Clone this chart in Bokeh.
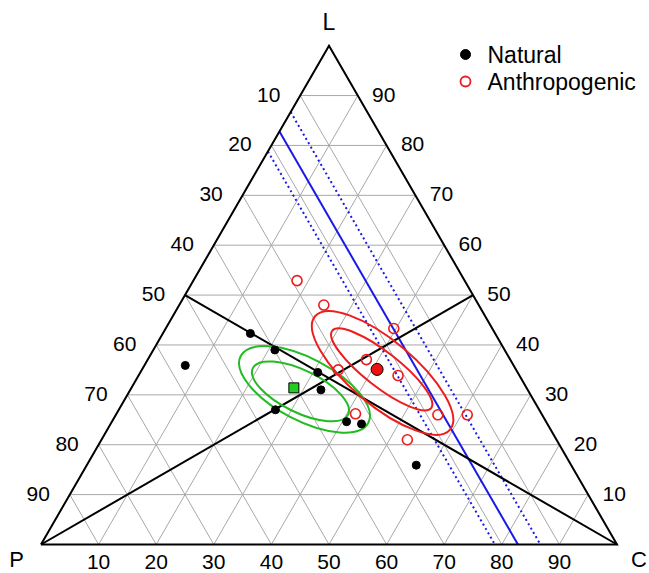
import math
from bokeh.plotting import figure
from bokeh.models import Range1d
from bokeh.core.properties import value
from bokeh.embed import file_html
from bokeh.resources import INLINE

# ---------------- data (ternary percentages: P, C, L) ----------------
natural_P = [42.5, 39.9, 57.0, 34.7, 35.9, 45.8, 34.6, 32.3, 26.9]
natural_C = [15.2, 21.1, 7.1, 30.8, 33.1, 27.2, 40.7, 43.6, 57.2]
natural_L = [42.3, 39.0, 35.9, 34.5, 31.0, 27.0, 24.6, 24.2, 15.9]

anthro_P = [29.1, 26.9, 17.1, 25.0, 30.9, 21.1, 32.3, 18.1, 25.9, 13.0]
anthro_C = [18.0, 25.1, 39.6, 38.0, 34.1, 45.1, 41.5, 55.9, 53.1, 61.0]
anthro_L = [52.9, 48.0, 43.3, 37.1, 35.0, 33.9, 26.2, 26.0, 21.0, 26.0]

natural_mean = [40.4, 28.2, 31.4]   # P, C, L
anthro_mean = [24.1, 40.8, 35.1]    # P, C, L

# confidence ellipses: centre (P, C, L), semi-axes (fraction of side), tilt (deg)
ell_group = ["natural", "natural", "anthro", "anthro"]
ell_P = [38.7, 39.6, 23.5, 23.3]
ell_C = [30.2, 29.7, 42.1, 41.6]
ell_L = [31.1, 30.7, 34.4, 35.1]
ell_major = [0.125, 0.092, 0.153, 0.109]
ell_minor = [0.054, 0.0365, 0.056, 0.030]
ell_tilt = [-27.6, -26.0, -40.0, -38.0]

# constant-P reference lines (solid centre and dotted band)
ref_P_solid = [17.2]
ref_P_dotted = [13.3, 21.2]

# medians: from vertex to mid-point of opposite side (P, C, L)
median_from = [(100, 0, 0), (0, 100, 0)]
median_to = [(0, 50, 50), (50, 0, 50)]

ticks = [10, 20, 30, 40, 50, 60, 70, 80, 90]
tick_labels = [str(t) for t in ticks]
vertex_names = ["P", "C", "L"]
legend_names = ["Natural", "Anthropogenic"]

# ---------------- helpers ----------------
S3 = math.sqrt(3) / 2


def tern(P, C, L):
    t = P + C + L
    c, l = C / t, L / t
    return c + l / 2, l * S3


# page layout: side of triangle = 576 px, P vertex at page (40.5, 544)
SIDE = 576.0
OX, OY = 40.5, 544.0
W, H = 649, 573


def px(x):
    return (x - OX) / SIDE


def py(y):
    return (OY - y) / SIDE


p = figure(width=W, height=H, output_backend="svg", toolbar_location=None,
           x_axis_type=None, y_axis_type=None, min_border=0,
           x_range=Range1d(px(0), px(W)), y_range=Range1d(py(H), py(0)))
p.grid.visible = False
p.outline_line_color = None
p.background_fill_color = "white"

FONT = value("Liberation Sans")

# ---------------- grid ----------------
gx, gy = [], []
for k in ticks:
    for a, b in [((100 - k, 0, k), (0, 100 - k, k)),
                 ((100 - k, k, 0), (0, k, 100 - k)),
                 ((k, 100 - k, 0), (k, 0, 100 - k))]:
        x0, y0 = tern(*a)
        x1, y1 = tern(*b)
        gx.append([x0, x1])
        gy.append([y0, y1])
p.multi_line(gx, gy, line_color="#a8a8a8", line_width=1)

# ---------------- reference lines ----------------
def p_line(Pv):
    x0, y0 = tern(Pv, 0, 100 - Pv)
    x1, y1 = tern(Pv, 100 - Pv, 0)
    return [x0, x1], [y0, y1]


for Pv in ref_P_dotted:
    xs, ys = p_line(Pv)
    p.line(xs, ys, line_color="#1a1ae6", line_width=2, line_dash="2 3")
for Pv in ref_P_solid:
    xs, ys = p_line(Pv)
    p.line(xs, ys, line_color="#1a1ae6", line_width=2)

# ---------------- medians ----------------
mx, my = [], []
for a, b in zip(median_from, median_to):
    x0, y0 = tern(*a)
    x1, y1 = tern(*b)
    mx.append([x0, x1])
    my.append([y0, y1])
p.multi_line(mx, my, line_color="black", line_width=2)

# ---------------- border ----------------
bx, by = zip(*[tern(100, 0, 0), tern(0, 100, 0), tern(0, 0, 100), tern(100, 0, 0)])
p.line(list(bx), list(by), line_color="black", line_width=2, line_join="miter")

# ---------------- ellipses ----------------
for g, Pc, Cc, Lc, a, b, t in zip(ell_group, ell_P, ell_C, ell_L, ell_major, ell_minor, ell_tilt):
    cx, cy = tern(Pc, Cc, Lc)
    col = "#22bb22" if g == "natural" else "#ee1c1c"
    p.ellipse(x=[cx], y=[cy], width=[2 * a], height=[2 * b], angle=[math.radians(t)],
              fill_color=None, line_color=col, line_width=2)

# ---------------- points ----------------
nx, ny = zip(*[tern(a, b, c) for a, b, c in zip(natural_P, natural_C, natural_L)])
ax, ay = zip(*[tern(a, b, c) for a, b, c in zip(anthro_P, anthro_C, anthro_L)])
p.scatter(list(nx), list(ny), marker="circle", size=8, fill_color="black", line_color="black")
p.scatter(list(ax), list(ay), marker="circle", size=10, fill_color=None,
          line_color="#ee1c1c", line_width=1.6)

gmx, gmy = tern(*natural_mean)
amx, amy = tern(*anthro_mean)
p.scatter([gmx], [gmy], marker="square", size=10, fill_color="#22cc22", line_color="black", line_width=1)
p.scatter([amx], [amy], marker="circle", size=12, fill_color="#ee1111", line_color="black", line_width=1)

# ---------------- tick labels ----------------
lx, ly = zip(*[tern(100 - k, 0, k) for k in ticks])   # left edge (P labels)
p.text(list(lx), list(ly), text=[str(100 - k) for k in ticks], text_font=FONT,
       text_font_size="21px", text_align="center", text_baseline="middle",
       x_offset=-31.5, y_offset=-1, text_color="black")
rx, ry = zip(*[tern(0, 100 - k, k) for k in ticks])   # right edge (L labels)
p.text(list(rx), list(ry), text=[str(k) for k in ticks], text_font=FONT,
       text_font_size="21px", text_align="center", text_baseline="middle",
       x_offset=26, y_offset=-1, text_color="black")
cx_, cy_ = zip(*[tern(100 - k, k, 0) for k in ticks])  # bottom edge (C labels)
p.text(list(cx_), list(cy_), text=tick_labels, text_font=FONT,
       text_font_size="21px", text_align="center", text_baseline="middle",
       x_offset=0, y_offset=17.5, text_color="black")

# vertex labels
vx, vy = tern(100, 0, 0)
p.text([vx], [vy], text=[vertex_names[0]], text_font=FONT, text_font_size="22px",
       text_align="center", text_baseline="middle", x_offset=-24.5, y_offset=15)
vx, vy = tern(0, 100, 0)
p.text([vx], [vy], text=[vertex_names[1]], text_font=FONT, text_font_size="22px",
       text_align="center", text_baseline="middle", x_offset=22, y_offset=15)
vx, vy = tern(0, 0, 100)
p.text([vx], [vy], text=[vertex_names[2]], text_font=FONT, text_font_size="23px",
       text_align="center", text_baseline="middle", x_offset=0, y_offset=-24)

# ---------------- legend ----------------
p.scatter([px(465)], [py(54)], marker="circle", size=10, fill_color="black", line_color="black")
p.scatter([px(465)], [py(81)], marker="circle", size=10, fill_color=None,
          line_color="#ee1c1c", line_width=1.8)
p.text([px(487), px(487)], [py(54), py(81)], text=legend_names, text_font=FONT,
       text_font_size="23px", text_align="left", text_baseline="middle", text_color="black")

open("out.html", "w").write(file_html(p, INLINE))
